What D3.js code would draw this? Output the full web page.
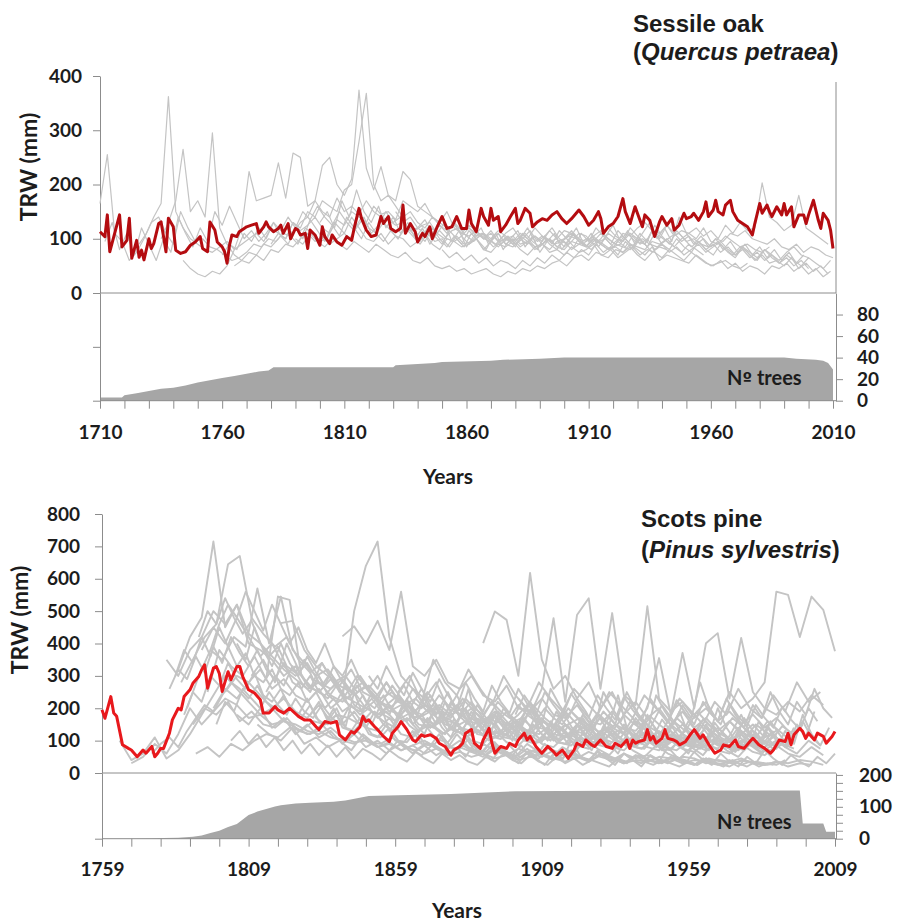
<!DOCTYPE html>
<html>
<head>
<meta charset="utf-8">
<script src="https://cdn.jsdelivr.net/npm/d3@7"></script>
<style>
body { margin: 0; background: #fff; }
text { font-family: Lato, "DejaVu Sans", sans-serif; font-weight: bold; fill: #1c1c1c; }
.title { font-family: "Liberation Sans", Arial, sans-serif; font-size: 24px; }
</style>
</head>
<body>
<svg id="chart" width="909" height="921"></svg>
<script>
// ---- Sessile oak ----
var oakMean = [[1710,113],[1712,104],[1713,144],[1714,76],[1716,110],[1718,144],[1719,85],[1721,97],[1722,138],[1723,64],
	[1725,97],[1726,66],[1727,79],[1728,61],[1730,100],[1731,82],[1732,91],[1734,128],[1735,131],[1736,104],[1737,76],[1738,138],
	[1740,122],[1741,79],[1743,73],[1745,76],[1747,88],[1749,94],[1751,104],[1752,82],[1754,76],[1755,131],[1757,116],[1758,94],
	[1760,85],[1761,76],[1762,55],[1763,88],[1764,107],[1766,104],[1767,113],[1769,119],[1770,122],[1772,125],[1774,128],[1775,110],
	[1777,122],[1778,131],[1779,122],[1781,113],[1783,119],[1784,125],[1785,110],[1787,128],[1788,100],[1790,119],[1791,116],
	[1792,107],[1794,110],[1795,82],[1796,116],[1798,107],[1800,88],[1801,122],[1802,104],[1804,91],[1805,107],[1807,94],[1809,88],
	[1811,104],[1813,97],[1814,119],[1816,156],[1817,138],[1819,116],[1821,104],[1823,107],[1825,141],[1826,128],[1828,141],
	[1829,119],[1831,113],[1833,119],[1834,162],[1835,110],[1837,128],[1839,113],[1840,94],[1842,110],[1843,104],[1845,122],
	[1846,100],[1848,122],[1850,141],[1852,119],[1854,122],[1856,141],[1858,119],[1860,119],[1861,153],[1862,128],[1864,113],
	[1866,156],[1867,141],[1869,125],[1870,156],[1871,134],[1873,141],[1874,113],[1876,125],[1878,141],[1880,156],[1881,128],
	[1882,134],[1884,156],[1886,147],[1887,122],[1889,131],[1891,137],[1893,134],[1895,144],[1897,150],[1899,137],[1901,128],
	[1903,137],[1906,153],[1908,141],[1910,125],[1912,134],[1914,150],[1915,137],[1916,110],[1918,122],[1920,128],[1922,141],
	[1924,174],[1925,150],[1927,128],[1928,144],[1929,159],[1931,134],[1932,122],[1933,144],[1935,134],[1937,104],[1939,131],
	[1940,141],[1942,125],[1944,137],[1945,116],[1947,125],[1949,147],[1950,137],[1952,141],[1953,147],[1955,134],[1957,150],
	[1958,168],[1959,141],[1961,153],[1962,171],[1963,150],[1965,144],[1966,162],[1968,171],[1969,150],[1971,134],[1973,128],
	[1975,122],[1977,107],[1978,128],[1980,165],[1981,147],[1983,162],[1984,150],[1985,141],[1987,159],[1989,144],[1990,165],
	[1991,144],[1993,159],[1994,122],[1996,144],[1998,144],[1999,128],[2000,144],[2002,171],[2004,134],[2005,119],[2006,147],
	[2008,134],[2009,116],[2010,82]];

// individual trees, one value every 3 years from the start year
var oakTreeStart = [1710, 1712, 1726, 1735, 1744, 1765, 1780, 1790, 1831, 1840, 1760, 1800, 1850];
var oakTrees = [
	[165,255,110,95,60,75,100,130,140,110,90,150,120,95,100,85,80,70,60,65,75,90,85,100,95,110,105,90,120,110,95,100,130,115,100,120,140,110,125,150,130,140,120,115,125,130,110,100,115,120,105,95,110,100,90,105,95,100,110,95,85,100,90,95,105,100,90,80,95,100,85,90,110,95,100,90,85,95,105,110,95,100,90,85,100,95,110,105,115,100,95,90,100,85,80,90,75,85,80,70,65],
	[95,130,80,110,70,120,90,60,100,75,140,110,85,120,95,150,125,160,130,100,115,95,110,130,105,90,120,100,135,115,95,125,105,140,120,100,130,110,95,115,100,120,105,90,110,95,100,85,105,90,95,110,100,85,95,105,90,100,115,95,105,120,100,90,110,95,85,100,90,80,95,85,105,90,100,80,90,75,85,70,80,90,75,85,95,80,70,85,75,65,80,70,60,75,85,70,65],
	[90,110,140,165,362,150,120,100,90,80,75,85,95,80,90,100,110,95,120,110,100,130,115,125,140,120,110,135,125,150,140,130,160,145,150,135,170,160,150,165,140,130,120,125,110,105,115,100,95,110,90,100,85,95,105,90,80,95,100,110,95,85,100,90,80,95,105,90,85,80,95,90,100,85,75,90,80,70],
	[100,130,170,265,150,170,140,295,120,90,70,60,55,70,60,80,75,90,85,100,110,95,105,90,100,110,140,120,100,95,110,90,105,100,85,95,110,90,80,100,95,85,90,100,80,75,90,85,95,80,70,85,90,75,80,70,85,75,80,90,70,65,80,75,85,70,60,75],
	[60,45,35,30,40,35,50,80,120,224,170,175,180,240,175,258,250,160,170,150,140,175,150,160,145,170,150,140,135,125,130,115,120,110,105,115,100,95,105,90,100,110,95,85,100,90,105,95,80,90,100,85,95,80,90,100,95,110,100,90,85,80,95,90,75,85,80],
	[50,60,75,70,90,85,100,120,110,130,140,170,235,250,200,180,210,374,230,190,233,180,170,224,209,160,150,140,130,150,120,110,125,115,100,110,95,100,105,90,95,85,90,100,85,80,95,90,85,100,90,80,85,75,90,80,70,85,60,70,65,60,55,70,60,50,55,60,50,45,55],
	[90,110,100,130,120,150,140,170,160,150,190,200,279,368,200,170,180,160,140,150,130,120,140,125,110,130,115,120,105,110,100,115,105,95,110,100,120,105,95,100,115,110,100,95,105,115,100,90,110,105,120,130,115,110,125,105,115,110,100,120,95,90,105,95,85,90,80,75,85],
	[100,90,110,95,85,100,90,80,95,85,75,90,80,70,65,75,60,55,65,50,45,50,40,45,35,40,45,35,30,40,35,45,40,50,45,55,60,50,65,70,60,75,70,80,65,75,85,70,80,75,65,80,70,60,75,65,55,50,60,45,55,40,50,45,35,50,45,55,40,50,35,45,30,40],
	[150,130,140,120,135,110,125,115,130,105,120,110,100,115,95,110,120,100,90,105,95,115,100,85,95,110,105,90,100,120,105,95,110,100,90,115,105,95,85,100,110,120,105,115,100,125,110,130,115,120,203,140,130,115,125,180,120,110,100,90],
	[110,95,120,100,85,105,90,115,100,80,95,110,90,85,100,120,95,105,90,80,100,115,95,85,105,90,110,100,95,120,105,90,115,100,125,110,95,105,90,100,85,95,80,70,85,75,60,70,55,60,50,65,45,55,40,50,35,45],
	[70,90,80,110,95,120,100,130,115,140,120,150,135,160,140,125,150,130,115,140,120,110,130,115,100,125,110,95,120,105,90,115,100,85,110,95,80,105,90,100,85,110,95,80,105,90,115,100,85,110,95,120,105,90,115,100,85,110,95,125,105,90,115,100,85,95,80,90,75,85,70,80,65,75,60,70,55,65,50,60,45],
	[130,150,120,170,140,190,150,130,160,120,140,110,130,100,120,90,110,130,95,115,85,105,120,90,110,80,100,115,85,105,75,95,110,80,100,120,90,110,85,105,125,95,115,90,110,130,100,120,95,140,110,90,105,85,100,80,95,75,90,70,85,65,80,60,75,55,70],
	[80,65,75,60,70,55,65,50,60,55,45,60,50,65,55,70,60,75,65,80,70,90,75,85,70,95,80,100,85,110,90,80,100,85,75,95,80,70,90,75,65,85,70,60,80,65,55,70,60,50,65,55,45,60,50]
];

var oakDepth = [[1710,3],[1719,3],[1720,5],[1725,7],[1730,9],[1735,11],[1740,12],[1745,14],[1750,17],[1755,19],[1760,21],
	[1765,23],[1770,25],[1775,27],[1779,28],[1781,31],[1830,31],[1831,33],[1840,34],[1847,35],[1850,36],[1870,37],[1875,38],
	[1890,39],[1900,40],[1990,40],[1995,39],[2003,38],[2006,37],[2008,35],[2009,32],[2010,29]];

// ---- Scots pine ----
var pineMean = [[1759,195],[1760,169],[1762,236],[1763,185],[1764,175],[1766,87],[1768,76],[1769,71],[1771,50],[1773,71],
	[1774,61],[1776,82],[1777,50],[1778,61],[1779,76],[1780,76],[1782,123],[1783,164],[1785,200],[1786,195],[1787,236],[1789,257],
	[1790,277],[1792,298],[1793,319],[1794,334],[1795,262],[1797,324],[1798,329],[1799,308],[1800,252],[1802,313],[1803,288],
	[1805,329],[1806,329],[1807,298],[1809,257],[1810,252],[1811,247],[1813,226],[1814,185],[1816,185],[1818,205],[1819,195],
	[1821,185],[1823,200],[1826,175],[1828,164],[1830,164],[1832,143],[1833,134],[1835,159],[1837,154],[1839,159],[1840,118],
	[1842,102],[1844,128],[1845,123],[1847,143],[1848,175],[1849,159],[1850,164],[1852,143],[1853,134],[1855,113],[1857,97],
	[1858,123],[1860,143],[1861,159],[1863,134],[1865,102],[1866,97],[1868,118],[1869,113],[1871,118],[1873,107],[1874,92],
	[1876,82],[1878,55],[1879,71],[1881,82],[1882,92],[1883,123],[1885,134],[1886,92],[1888,76],[1889,102],[1891,138],[1892,92],
	[1893,61],[1895,82],[1897,76],[1898,92],[1900,82],[1901,102],[1903,123],[1904,102],[1905,113],[1907,82],[1909,61],[1911,82],
	[1913,66],[1914,55],[1916,71],[1918,45],[1920,71],[1921,92],[1923,82],[1924,102],[1926,87],[1927,82],[1929,102],[1931,82],
	[1933,76],[1934,92],[1936,82],[1938,102],[1939,76],[1940,102],[1941,92],[1942,97],[1944,102],[1945,134],[1946,102],[1947,113],
	[1948,92],[1950,107],[1951,134],[1952,107],[1954,102],[1955,97],[1956,87],[1958,97],[1960,123],[1961,134],[1963,107],[1964,118],
	[1966,87],[1968,61],[1970,71],[1971,87],[1973,82],[1975,102],[1976,82],[1978,76],[1980,97],[1981,107],[1983,87],[1985,76],
	[1987,61],[1988,71],[1990,102],[1992,97],[1993,123],[1994,87],[1995,118],[1997,138],[1998,128],[1999,107],[2000,123],[2002,102],
	[2003,123],[2005,113],[2006,92],[2008,113],[2009,128]];

// individual trees, one value every 4 years from the start year
var pineTreeStart = [1765, 1769, 1781, 1785, 1786, 1788, 1790, 1791, 1793, 1795, 1797, 1801, 1805, 1810, 1812, 1820, 1841, 1860, 1889, 1901, 1941, 1961];
var pineTrees = [
	[100,40,60,110,45,70,120,180,240,300,260,220,180,200,160,150,130,120,140,110,95,100,80,90,70,85,60,75,55,65,50,60,45,55,40,50,60,45,35,50,40,55,45,30,40,35,50,45,30,40,35,25,35],
	[30,50,90,60,120,200,150,190,230,210,170,180,150,160,140,120,130,110,100,90,110,80,95,70,85,100,75,60,80,65,90,70,55,75,60,50,70,55,45,65,50,40,60,45,55,40,35,50,45,30,40,35,45,30,25,35,30,40,35,25],
	[350,300,380,420,500,460,520,430,400,360,320,290,260,280,240,220,250,200,180,210,170,190,160,150,170,140,130,160,120,140,110,130,100,120,150,110,95,130,105,90,120,100,85,110,95,80,105,90,75,100,85,70,95,80],
	[320,420,480,715,450,520,400,380,350,300,330,270,250,290,240,220,200,230,190,210,170,180,200,160,150,170,140,180,130,150,120,160,140,110,130,150,100,120,140,110,90,130,100,120,95,110,85,100,120,90,80,100],
	[280,350,420,460,645,670,480,430,390,420,350,310,340,280,300,250,270,230,250,210,230,190,210,180,200,170,160,190,150,170,140,160,130,150,170,140,120,150,130,110,140,120,100,130,110,95,120,100,85,110,95,80],
	[200,300,380,350,420,390,570,400,545,380,340,300,320,270,250,280,230,210,240,200,180,210,170,190,160,150,180,140,160,130,120,150,110,130,100,120,140,105,95,125,100,90,115,95,80,105,90,70,95,80,65],
	[150,200,180,220,160,190,150,140,170,130,120,150,110,100,130,95,90,110,80,70,95,75,60,85,65,55,80,60,50,70,55,45,65,50,40,60,45,35,55,40,30,50,40,25,45,35,30,40,30,25,35],
	[60,80,50,90,70,100,120,110,140,130,160,150,180,170,150,190,160,140,170,130,150,120,140,110,130,100,120,150,110,95,130,100,120,90,110,140,100,85,120,95,80,110,90,75,100,85,70,95,80,65,90,75],
	[380,450,400,480,420,360,400,330,300,340,280,260,290,240,270,220,200,230,190,210,180,250,170,200,160,190,150,180,220,160,140,190,150,130,170,140,120,160,130,110,150,120,100,140,115,95,130,105,90,120],
	[250,380,330,300,360,290,545,535,300,260,240,280,210,190,230,180,160,200,150,140,180,130,120,160,115,105,140,100,90,130,95,85,120,90,80,110,85,75,105,80,70,100,75],
	[200,260,230,280,240,200,230,190,170,210,160,150,190,140,130,170,120,110,150,105,95,140,100,90,130,95,85,120,90,80,115,85,75,110,80,70,105,80,70,100,75,65,95,70,60,90,65,55,85,60,50,80,55],
	[250,300,280,320,260,290,240,220,260,200,230,500,640,715,420,300,260,230,280,200,180,220,170,150,190,140,130,170,120,110,150,100,90,130,95,80,120,90,75,110,85,70,100,80],
	[180,150,200,140,170,120,150,110,130,90,120,80,100,70,90,60,85,55,75,100,65,50,80,60,45,70,55,40,65,50,35,60,45,30,55,40,30,50,35,25,45,30,20,40,30,25,35,20,30,25],
	[300,350,280,400,320,260,340,280,240,300,250,210,270,220,190,250,200,170,230,190,160,220,180,150,210,170,140,200,160,130,190,150,250,180,140,210,160,130,190,150,120,170,140,110,160,130,100,150],
	[150,120,100,140,90,110,80,100,70,120,90,60,100,75,55,90,65,120,80,60,100,70,50,90,65,45,80,60,110,75,55,95,70,50,85,60,45,80,55,100,70,50,90,65,120,80,60,100,75],
	[463,470,380,330,300,270,320,250,230,280,220,200,260,190,180,240,170,160,220,150,140,200,140,130,190,130,120,180,125,110,170,115,100,160,110,95,150,105,90,140,100,85,130],
	[422,453,400,470,380,560,330,300,350,280,260,300,240,220,270,200,190,230,180,170,210,160,150,190,140,130,170,125,115,150,110,100,140,105,95,130,90,120],
	[250,300,220,350,280,240,320,260,210,300,240,200,280,230,190,260,220,180,250,210,170,240,200,160,230,190,150,220,180,260,200,170,240,190,280,220,250],
	[401,499,473,300,618,350,260,300,230,280,200,250,180,220,170,200,150,190,140,170,130,160,120,150,110,130],
	[230,180,260,478,220,488,540,260,494,240,210,515,230,190,220,170,200,160,190,150,180,140,170,130],
	[150,200,355,180,371,200,401,432,230,417,250,200,180,220,190,240,210],
	[180,220,160,250,200,230,280,560,550,420,545,504,376]
];

// more pine trees, one value every 3 years from the start year
var pineTree3Start = [1784, 1787, 1792, 1798, 1803, 1815, 1830, 1850, 1870, 1880, 1805, 1782, 1900, 1920, 1796, 1776];
var pineTrees3 = [
	[300,380,340,420,360,450,390,330,370,300,280,320,260,240,280,220,250,200,230,190,210,180,200,170,190,160,220,150,180,140,170,130,160,200,140,120,170,130,110,150,120,180,130,100,140,110,160,120,95,130,105,150,110,90,125,100,140,105,85,120,95,130,100,80,115,90,125,95,75,105],
	[180,250,220,300,270,340,290,260,310,240,220,260,200,180,230,170,150,200,140,130,170,120,110,150,100,95,130,90,85,120,80,75,110,70,65,100,60,85,55,75,50,90,60,45,70,50,40,65,45,35,60,40,30,55,40,30,50,35,25,45,30,25,40,30,20,35,30,25],
	[420,500,460,540,480,430,470,400,360,390,330,310,350,290,270,310,250,230,270,220,200,240,190,180,220,170,160,200,150,140,190,140,130,170,125,115,160,120,110,150,115,105,145,110,100,140,105,95,130,100,90,125,95,85,120,90,80,115,85,75,110,80,70,100],
	[150,220,190,260,230,200,250,210,180,230,190,170,210,175,150,200,160,140,190,150,130,180,145,125,170,140,120,165,135,115,160,130,110,155,125,105,150,120,100,145,115,95,140,110,90,135,105,85,130,100,80,125,95,75,120,90,70,110,85,65,100,80,60],
	[100,130,90,120,80,110,70,100,60,90,55,85,50,80,45,75,60,40,70,50,35,65,45,30,60,40,55,35,25,50,35,60,40,30,55,35,25,50,30,45,25,40,30,20,45,30,55,35,25,40,30,20,35,25,45,30,20,40,25,35,20,30,25,40],
	[250,300,270,330,280,250,300,240,220,270,210,190,250,200,180,240,190,170,230,180,160,220,175,150,210,170,145,200,160,140,195,155,130,190,150,125,180,145,120,175,140,115,170,135,110,165,130,105,160,125,100,155,120,95,150,115,90,145,110,85,140],
	[180,220,160,200,140,250,180,150,210,130,170,230,150,120,190,140,110,170,260,150,120,180,140,100,160,220,130,100,150,120,90,170,130,95,150,240,140,110,160,120,90,140,190,120,95,150,110,85,130,180,120,90,140,100,80,120,160,110,85],
	[300,260,330,280,240,310,260,220,290,240,200,280,230,190,270,220,185,260,215,180,250,210,175,245,205,170,240,200,165,235,195,160,230,190,155,225,185,150,220,180,150,215,175,145,210,170,140,205,165,135,200,160],
	[200,150,220,170,130,190,150,110,180,140,100,170,130,95,160,125,90,150,120,85,145,115,80,140,110,180,130,95,160,120,85,150,115,200,140,100,170,130,90,160,120,85,150,110,190],
	[80,50,90,60,40,75,50,30,65,45,25,60,40,100,55,35,70,45,25,60,40,20,55,35,80,50,30,65,40,25,60,35,20,50,30,70,45,25,55,35,20,50,30,60,40],
	[400,350,450,380,330,400,340,300,360,310,270,330,280,250,300,260,230,280,240,210,260,220,200,240,210,190,230,200,180,220,190,170,210,180,160,200,170,150,190,165,145,185,160,140,180,155,135,175,150,130,170,145,125,165,140,120,160,135,115,150,130,110,145,125],
	[260,320,290,360,310,390,340,420,370,330,380,320,290,340,280,260,300,250,230,270,220,200,240,190,180,210,170,160,190,150,140,175,135,125,160,120,115,150,110,105,140,100,95,130,95,90,125,90,85,120,85,80,115,80,75,110,75,70,105],
	[180,240,200,150,260,210,170,230,190,140,250,200,160,220,180,130,240,190,150,210,170,280,200,160,230,180,140,210,170,250,190,150,220,180,260,200,170],
	[60,100,70,130,90,60,110,80,150,100,70,120,85,60,110,75,140,95,65,120,85,160,110,75,130,90,180,120,85,140,100],
	[380,460,520,480,560,500,440,520,460,400,450,380,340,400,330,300,350,290,260,300,250,230,270,220,200,240,190,180,210,170],
	[60,90,110,80,130,170,210,190,240,280,260,230,270,220,200,240,190,170,210,160,150,180,140,130,160,120,110,140,100,95,130,90,85,115,80,75,105,70,65,95,60,55,85,50,45,75]
];

var pineDepth = [[1768,0],[1775,1],[1780,2],[1785,3],[1790,6],[1793,10],[1796,18],[1799,25],[1802,37],[1805,46],[1807,60],
	[1809,74],[1812,85],[1815,93],[1818,101],[1820,105],[1825,110],[1830,113],[1838,116],[1842,120],[1846,127],[1850,134],
	[1860,136],[1878,140],[1890,145],[1900,149],[1946,151],[1997,151],[1998,48],[2005,48],[2006,22],[2009,22]];

var svg = d3.select('#chart');

function styleAxis(sel) {
	sel.select('.domain').attr('stroke', '#8c8c8c');
	sel.selectAll('line').attr('stroke', '#8c8c8c');
	sel.selectAll('text').style('font-size', '19px').style('font-family', 'Lato, sans-serif')
		.style('font-weight', 'bold').attr('fill', '#1c1c1c');
}

function drawPanel(p) {
	var g = svg.append('g');

	var x = d3.scaleLinear().domain([p.first, p.last]).range([p.left, p.xEnd]);
	var y = d3.scaleLinear().domain([0, p.trwMax]).range([p.zeroY, p.topY]);
	var yn = d3.scaleLinear().domain([0, p.nMax]).range([p.bottomY, p.zeroY]);

	// sample depth
	g.append('path').datum(p.depth)
		.attr('fill', '#a6a6a6')
		.attr('d', d3.area().x(function(d) { return x(d[0]); }).y0(yn(0)).y1(function(d) { return yn(d[1]); }));

	// frame lines
	g.append('line').attr('x1', p.left).attr('x2', p.right).attr('y1', y(0)).attr('y2', y(0)).attr('stroke', '#8c8c8c');
	g.append('line').attr('x1', p.left).attr('x2', p.right).attr('y1', yn(0)).attr('y2', yn(0)).attr('stroke', '#8c8c8c');
	if (p.frameTop) {
		g.append('line').attr('x1', p.right).attr('x2', p.right).attr('y1', p.frameTop).attr('y2', y(0)).attr('stroke', '#8c8c8c');
	}

	// axes
	g.append('g').attr('transform', 'translate(' + p.left + ',0)')
		.call(d3.axisLeft(y).tickValues(d3.range(0, p.trwMax + 1, p.trwStep)).tickSize(7).tickSizeOuter(0).tickPadding(p.leftPad))
		.call(styleAxis);
	g.append('g').attr('transform', 'translate(' + p.left + ',0)')
		.call(d3.axisLeft(yn).tickValues(p.leftDepthTicks).tickFormat('').tickSize(7).tickSizeOuter(0))
		.call(styleAxis);
	g.append('g').attr('transform', 'translate(' + p.right + ',0)')
		.call(d3.axisRight(yn).tickValues(p.rightTicks).tickSize(7).tickSizeOuter(0).tickPadding(p.rightPad)
			.tickFormat(function(d) { return p.rightLabels.indexOf(d) >= 0 ? d : ''; }))
		.call(styleAxis);
	var xa = g.append('g').attr('transform', 'translate(0,' + yn(0) + ')')
		.call(d3.axisBottom(x).tickValues(d3.range(p.first, p.last + 1, 10)).tickSize(8).tickSizeOuter(0).tickPadding(p.xPad)
			.tickFormat(function(d) { return (d - p.first) % 50 === 0 ? d : ''; }))
		.call(styleAxis);
	xa.select('.domain').remove();

	// individual trees
	var line = d3.line().x(function(d) { return x(d[0]); }).y(function(d) { return y(d[1]); });
	p.treeSets.forEach(function(set) {
		set.trees.forEach(function(vals, i) {
			var pts = vals.map(function(v, j) { return [set.start[i] + j * set.step, v]; })
				.filter(function(d) { return d[0] <= p.last; });
			g.append('path').datum(pts)
				.attr('fill', 'none')
				.attr('stroke', p.greyColor)
				.attr('stroke-width', p.greyWidth)
				.attr('stroke-linejoin', 'round')
				.attr('d', line);
		});
	});

	// mean chronology
	g.append('path').datum(p.mean)
		.attr('fill', 'none')
		.attr('stroke', p.meanColor)
		.attr('stroke-width', p.meanWidth)
		.attr('stroke-linejoin', 'round')
		.attr('d', line);

	// labels
	g.append('text').attr('transform', 'translate(' + p.yLabelX + ',' + p.yLabelY + ') rotate(-90)')
		.attr('text-anchor', 'middle').style('font-size', '23px').text('TRW (mm)');
	g.append('text').attr('x', p.yearsX).attr('y', p.yearsY).attr('text-anchor', 'middle')
		.style('font-size', '21px').text('Years');
	var nt = g.append('text').attr('x', p.nLabelX).attr('y', p.nLabelY).style('font-size', '20px');
	nt.append('tspan').text('N');
	nt.append('tspan').style('font-family', '"DejaVu Sans", sans-serif').style('font-size', '17px').text('º');
	nt.append('tspan').text(' trees');

	g.append('text').attr('class', 'title').attr('x', p.titleX).attr('y', p.titleY).text(p.common);
	var t2 = g.append('text').attr('class', 'title').attr('x', p.titleX).attr('y', p.titleY + p.titleGap);
	t2.append('tspan').text('(');
	t2.append('tspan').style('font-style', 'italic').text(p.latin);
	t2.append('tspan').text(')');
}

drawPanel({
	first: 1710, last: 2010, left: 100, xEnd: 833, right: 836,
	trwMax: 400, trwStep: 100, zeroY: 293, topY: 76,
	nMax: 100, bottomY: 400.7, frameTop: 82,
	leftDepthTicks: [0, 50], rightTicks: [0, 20, 40, 60, 80], rightLabels: [0, 20, 40, 60, 80],
	leftPad: 11, rightPad: 14, xPad: 17,
	depth: oakDepth, treeSets: [{ trees: oakTrees, start: oakTreeStart, step: 3 }], mean: oakMean,
	greyColor: '#c4c4c4', greyWidth: 1.2, meanColor: '#b40c10', meanWidth: 3,
	yLabelX: 37, yLabelY: 167, yearsX: 448, yearsY: 484, nLabelX: 727, nLabelY: 385,
	titleX: 633, titleY: 32, titleGap: 28, common: 'Sessile oak', latin: 'Quercus petraea'
});

drawPanel({
	first: 1759, last: 2009, left: 102, xEnd: 835, right: 836,
	trwMax: 800, trwStep: 100, zeroY: 773, topY: 514,
	nMax: 206, bottomY: 838.7, frameTop: null,
	leftDepthTicks: [0], rightTicks: d3.range(0, 201, 25), rightLabels: [0, 100, 200],
	leftPad: 15, rightPad: 16, xPad: 16,
	depth: pineDepth, mean: pineMean,
	treeSets: [{ trees: pineTrees, start: pineTreeStart, step: 4 }, { trees: pineTrees3, start: pineTree3Start, step: 3 }],
	greyColor: '#c4c4c4', greyWidth: 1.9, meanColor: '#e8181c', meanWidth: 3,
	yLabelX: 28, yLabelY: 620, yearsX: 457, yearsY: 918, nLabelX: 717, nLabelY: 829,
	titleX: 641, titleY: 527, titleGap: 31, common: 'Scots pine', latin: 'Pinus sylvestris'
});
</script>
</body>
</html>
